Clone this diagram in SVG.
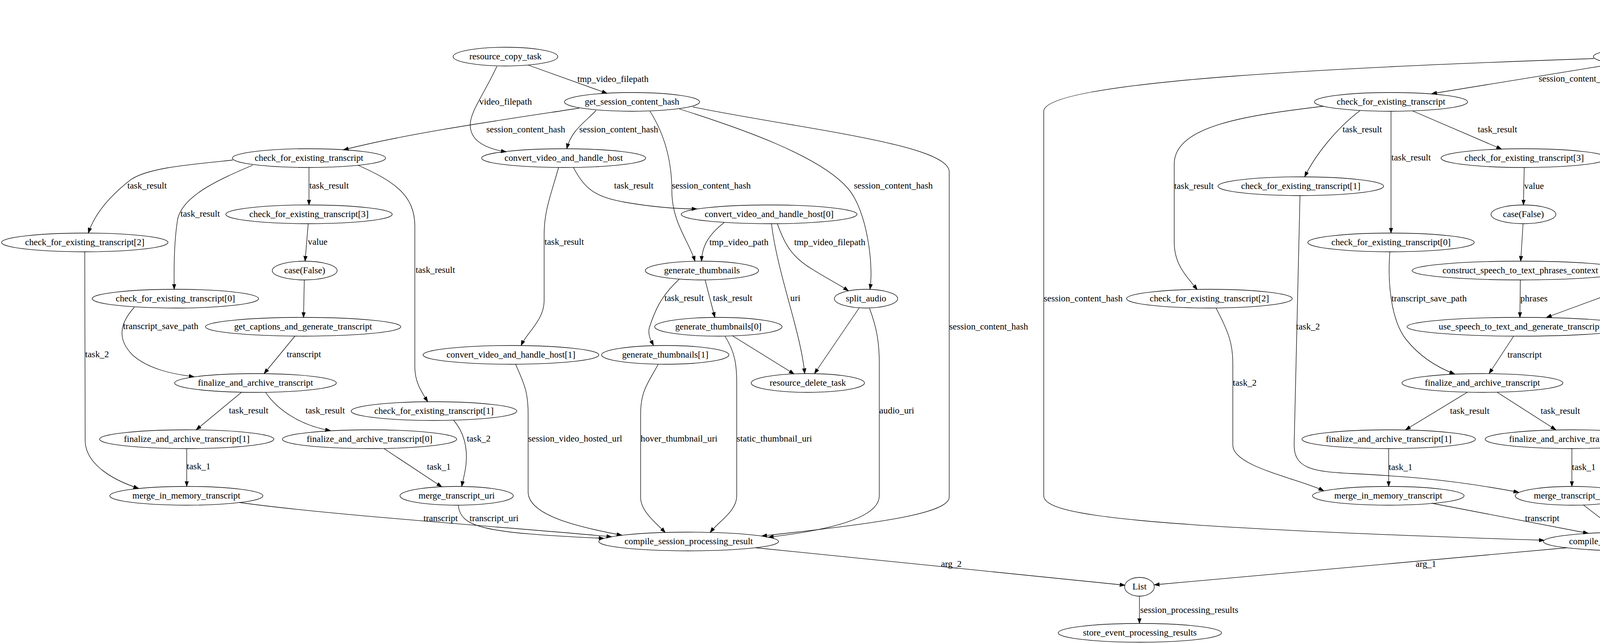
<svg xmlns="http://www.w3.org/2000/svg" width="5189" height="1647" viewBox="0 0 5189 1647">
<style>
.node ellipse{fill:none;stroke:#000;stroke-width:1.3}
.node text{font-family:"Liberation Serif","Times New Roman",serif;font-size:23.3px;text-anchor:middle;fill:#000}
.edge path{fill:none;stroke:#000;stroke-width:1.3;marker-end:url(#ah)}
.edge text{font-family:"Liberation Serif","Times New Roman",serif;font-size:23.3px;text-anchor:start;fill:#000}
</style>
<defs>
<marker id="ah" markerUnits="userSpaceOnUse" markerWidth="14" markerHeight="10" viewBox="0 -5 14 10" refX="13.3" refY="0" orient="auto">
<path d="M0,-4.7 L13.3,0 L0,4.7 z" fill="#000" stroke="#000" stroke-width="1"/>
</marker>
</defs>
<rect x="0" y="0" width="5189" height="1647" fill="#fff"/>

<g id="edges">
<!-- left graph -->
<g class="edge"><path d="M1353,167 L1554,239"/><text x="1478" y="210">tmp_video_filepath</text></g>
<g class="edge"><path d="M1272,170 C1240,240 1200,290 1204,325 C1207,360 1240,380 1296,389"/><text x="1227" y="268">video_filepath</text></g>
<g class="edge"><path d="M1483,277 C1300,305 1050,340 879,384"/><text x="1245" y="339">session_content_hash</text></g>
<g class="edge"><path d="M1526,283 C1495,315 1462,335 1451,381"/><text x="1483" y="339">session_content_hash</text></g>
<g class="edge"><path d="M1664,285 C1705,350 1720,420 1720,490 C1720,570 1765,620 1779,669"/><text x="1720" y="483">session_content_hash</text></g>
<g class="edge"><path d="M1739,279 C1900,330 2100,400 2171,483 C2220,540 2237,680 2227,741"/><text x="2186" y="483">session_content_hash</text></g>
<g class="edge"><path d="M1774,274 C2050,330 2430,370 2430,440 L2430,1274 C2428,1320 2200,1345 1950,1373"/><text x="2430" y="844">session_content_hash</text></g>
<g class="edge"><path d="M2226,790 C2245,840 2251,880 2251,930 L2251,1270 C2251,1320 2150,1355 1967,1376"/><text x="2251" y="1059">audio_uri</text></g>
<g class="edge"><path d="M596,410 C480,422 380,430 335,460 C290,495 245,540 226,597"/><text x="326" y="483">task_result</text></g>
<g class="edge"><path d="M647,423 C560,460 470,500 455,560 C445,620 445,690 446,741"/><text x="462" y="555">task_result</text></g>
<g class="edge"><path d="M791,429 L791,525"/><text x="792" y="483">task_result</text></g>
<g class="edge"><path d="M916,423 C1010,465 1062,500 1062,580 L1062,940 C1062,980 1080,1005 1095,1029"/><text x="1064" y="699">task_result</text></g>
<g class="edge"><path d="M789,573 L781,669"/><text x="788" y="627">value</text></g>
<g class="edge"><path d="M779,717 L777,813"/></g>
<g class="edge"><path d="M217,645 L218,1130 C220,1190 290,1230 355,1251"/><text x="218" y="915">task_2</text></g>
<g class="edge"><path d="M344,787 C305,830 300,870 340,910 C380,945 440,958 497,965"/><text x="315" y="843">transcript_save_path</text></g>
<g class="edge"><path d="M755,861 L676,957"/><text x="734" y="915">transcript</text></g>
<g class="edge"><path d="M618,1005 L502,1101"/><text x="586" y="1059">task_result</text></g>
<g class="edge"><path d="M680,1005 C710,1050 770,1090 846,1103"/><text x="782" y="1059">task_result</text></g>
<g class="edge"><path d="M478,1149 L478,1246"/><text x="478" y="1202">task_1</text></g>
<g class="edge"><path d="M983,1149 L1131,1247"/><text x="1093" y="1203">task_1</text></g>
<g class="edge"><path d="M1161,1076 C1190,1110 1197,1150 1193,1190 C1190,1215 1185,1230 1182,1246"/><text x="1195" y="1131">task_2</text></g>
<g class="edge"><path d="M1468,429 C1500,490 1530,505 1600,518 C1680,532 1740,535 1784,535"/><text x="1572" y="483">task_result</text></g>
<g class="edge"><path d="M1430,429 C1410,500 1393,540 1393,600 L1393,770 C1393,820 1350,850 1334,885"/><text x="1394" y="627">task_result</text></g>
<g class="edge"><path d="M1854,570 C1815,600 1797,630 1796,669"/><text x="1816" y="628">tmp_video_path</text></g>
<g class="edge"><path d="M1990,573 C2010,630 2030,660 2080,690 C2120,715 2150,730 2172,745"/><text x="2033" y="628">tmp_video_filepath</text></g>
<g class="edge"><path d="M1975,573 C1990,700 2050,850 2060,957"/><text x="2023" y="771">uri</text></g>
<g class="edge"><path d="M1805,717 L1830,813"/><text x="1825" y="771">task_result</text></g>
<g class="edge"><path d="M1739,715 C1690,760 1675,800 1662,840 C1658,860 1668,875 1673,885"/><text x="1701" y="771">task_result</text></g>
<g class="edge"><path d="M1875,860 L2033,958"/></g>
<g class="edge"><path d="M2200,788 L2085,957"/></g>
<g class="edge"><path d="M1856,861 C1880,900 1886,930 1886,980 L1886,1270 C1886,1310 1840,1335 1818,1364"/><text x="1886" y="1131">static_thumbnail_uri</text></g>
<g class="edge"><path d="M1685,933 C1660,980 1640,1000 1640,1060 L1640,1274 C1640,1310 1680,1340 1703,1364"/><text x="1640" y="1131">hover_thumbnail_uri</text></g>
<g class="edge"><path d="M1320,933 C1340,980 1352,1000 1352,1060 L1352,1260 C1352,1320 1480,1350 1592,1371"/><text x="1352" y="1131">session_video_hosted_url</text></g>
<g class="edge"><path d="M612,1287 C850,1320 1300,1350 1566,1375"/><text x="1084" y="1335">transcript</text></g>
<g class="edge"><path d="M1173,1294 C1180,1350 1230,1365 1546,1379"/><text x="1202" y="1335">transcript_uri</text></g>
<g class="edge"><path d="M1934,1403 L2880,1499"/><text x="2409" y="1452">arg_2</text></g>
<g class="edge"><path d="M2917,1527 L2917,1597"/><text x="2919" y="1570">session_processing_results</text></g>
<!-- right graph -->
<g class="edge"><path d="M4526,50 L4318,123"/><text x="4440" y="94">tmp_video_filepath</text></g>
<g class="edge"><path d="M4612,53 C4630,85 4628,110 4610,150 C4590,200 4520,270 4492,309"/><text x="4615" y="152">video_filepath</text></g>
<g class="edge"><path d="M4137,163 L3665,240"/><text x="3939" y="209">session_content_hash</text></g>
<g class="edge"><path d="M4080,150 C3500,170 2672,205 2672,285 L2672,1270 C2672,1320 2900,1350 3953,1384"/><text x="2672" y="772">session_content_hash</text></g>
<g class="edge"><path d="M4280,169 L4436,309"/><text x="4328" y="209">session_content_hash</text></g>
<g class="edge"><path d="M4218,168 C4175,210 4163,240 4163,290 L4163,560 C4163,610 4220,640 4238,672"/><text x="4163" y="411">session_content_hash</text></g>
<g class="edge"><path d="M4400,157 C4700,220 4892,240 4892,300 L4892,600 C4892,630 4885,650 4881,669"/><text x="4892" y="411">session_content_hash</text></g>
<g class="edge"><path d="M4484,357 L4610,525"/><text x="4536" y="411">task_result</text></g>
<g class="edge"><path d="M4454,357 C4420,450 4385,520 4385,600 L4393,1050 C4395,1110 4450,1140 4482,1174"/><text x="4393" y="772">task_result</text></g>
<g class="edge"><path d="M3388,272 C3200,295 3006,320 3006,420 L3006,620 C3006,680 3040,710 3065,742"/><text x="3006" y="484">task_result</text></g>
<g class="edge"><path d="M3482,283 C3420,330 3365,400 3340,453"/><text x="3437" y="339">task_result</text></g>
<g class="edge"><path d="M3561,285 L3561,597"/><text x="3562" y="411">task_result</text></g>
<g class="edge"><path d="M3616,284 L3844,382"/><text x="3783" y="339">task_result</text></g>
<g class="edge"><path d="M3902,429 L3900,525"/><text x="3902" y="484">value</text></g>
<g class="edge"><path d="M3899,573 L3893,669"/></g>
<g class="edge"><path d="M3892,717 L3891,813"/><text x="3892" y="772">phrases</text></g>
<g class="edge"><path d="M4228,714 L3959,813"/><text x="4140" y="772">audio_uri</text></g>
<g class="edge"><path d="M3875,861 L3812,957"/><text x="3859" y="916">transcript</text></g>
<g class="edge"><path d="M3558,645 C3552,720 3560,820 3600,870 C3640,920 3690,945 3724,958"/><text x="3562" y="772">transcript_save_path</text></g>
<g class="edge"><path d="M3756,1005 L3598,1101"/><text x="3712" y="1060">task_result</text></g>
<g class="edge"><path d="M3833,1005 L3983,1101"/><text x="3944" y="1060">task_result</text></g>
<g class="edge"><path d="M3555,1149 L3555,1246"/><text x="3555" y="1204">task_1</text></g>
<g class="edge"><path d="M4024,1149 L4024,1246"/><text x="4024" y="1204">task_1</text></g>
<g class="edge"><path d="M3113,789 C3145,850 3156,880 3156,930 L3156,1140 C3156,1195 3320,1225 3389,1257"/><text x="3156" y="988">task_2</text></g>
<g class="edge"><path d="M3328,501 L3313,1140 C3313,1200 3360,1208 3460,1213 C3560,1218 3700,1225 3888,1261"/><text x="3318" y="844">task_2</text></g>
<g class="edge"><path d="M4294,716 L4572,957"/></g>
<g class="edge"><path d="M4278,717 C4282,780 4284,820 4284,900 L4284,1240 C4282,1300 4250,1330 4231,1364"/><text x="4284" y="1060">audio_uri</text></g>
<g class="edge"><path d="M4628,573 L4606,957"/><text x="4617" y="772">uri</text></g>
<g class="edge"><path d="M4500,569 C4440,595 4360,620 4305,671"/><text x="4411" y="627">tmp_video_filepath</text></g>
<g class="edge"><path d="M4646,573 C4680,620 4730,650 4781,674"/><text x="4722" y="627">tmp_video_path</text></g>
<g class="edge"><path d="M4861,717 L4823,813"/><text x="4850" y="772">task_result</text></g>
<g class="edge"><path d="M4927,715 C4975,760 5000,800 5008,870 C5018,940 5024,990 5024,1029"/><text x="5013" y="844">task_result</text></g>
<g class="edge"><path d="M4779,860 L4637,958"/></g>
<g class="edge"><path d="M4804,861 C4792,920 4788,960 4788,1020 L4788,1260 C4788,1330 4500,1345 4351,1371"/><text x="4788" y="1132">static_thumbnail_uri</text></g>
<g class="edge"><path d="M5016,1077 C4985,1150 4960,1200 4945,1260 C4915,1320 4820,1365 4411,1386"/><text x="4975" y="1204">hover_thumbnail_uri</text></g>
<g class="edge"><path d="M4496,1220 C4460,1270 4300,1330 4249,1364"/><text x="4458" y="1277">session_video_hosted_url</text></g>
<g class="edge"><path d="M3665,1289 L4066,1366"/><text x="3904" y="1335">transcript</text></g>
<g class="edge"><path d="M4053,1293 L4144,1363"/><text x="4111" y="1335">transcript_uri</text></g>
<g class="edge"><path d="M4012,1403 L2955,1498"/><text x="3624" y="1452">arg_1</text></g>
</g>

<!-- left graph nodes -->
<g id="L_resource_copy_task" class="node"><ellipse cx="1294" cy="145" rx="134" ry="24"/><text x="1294" y="152">resource_copy_task</text></g>
<g id="L_get_session_content_hash" class="node"><ellipse cx="1618" cy="261" rx="173" ry="24"/><text x="1618" y="268">get_session_content_hash</text></g>
<g id="L_check_for_existing_transcript" class="node"><ellipse cx="791" cy="405" rx="196" ry="24"/><text x="791" y="412">check_for_existing_transcript</text></g>
<g id="L_convert_video_and_handle_host" class="node"><ellipse cx="1443" cy="405" rx="210" ry="24"/><text x="1443" y="412">convert_video_and_handle_host</text></g>
<g id="L_check_for_existing_transcript_3" class="node"><ellipse cx="791" cy="549" rx="213" ry="24"/><text x="791" y="556">check_for_existing_transcript[3]</text></g>
<g id="L_convert_video_and_handle_host_0" class="node"><ellipse cx="1969" cy="549" rx="225" ry="24"/><text x="1969" y="556">convert_video_and_handle_host[0]</text></g>
<g id="L_check_for_existing_transcript_2" class="node"><ellipse cx="217" cy="621" rx="213" ry="24"/><text x="217" y="628">check_for_existing_transcript[2]</text></g>
<g id="L_case_false" class="node"><ellipse cx="780" cy="693" rx="83" ry="24"/><text x="780" y="700">case(False)</text></g>
<g id="L_generate_thumbnails" class="node"><ellipse cx="1797" cy="693" rx="145" ry="24"/><text x="1797" y="700">generate_thumbnails</text></g>
<g id="L_check_for_existing_transcript_0" class="node"><ellipse cx="449" cy="765" rx="213" ry="24"/><text x="449" y="772">check_for_existing_transcript[0]</text></g>
<g id="L_split_audio" class="node"><ellipse cx="2217" cy="765" rx="81" ry="24"/><text x="2217" y="772">split_audio</text></g>
<g id="L_get_captions_and_generate_transcript" class="node"><ellipse cx="776" cy="837" rx="250" ry="24"/><text x="776" y="844">get_captions_and_generate_transcript</text></g>
<g id="L_generate_thumbnails_0" class="node"><ellipse cx="1839" cy="837" rx="163" ry="24"/><text x="1839" y="844">generate_thumbnails[0]</text></g>
<g id="L_convert_video_and_handle_host_1" class="node"><ellipse cx="1308" cy="909" rx="225" ry="24"/><text x="1308" y="916">convert_video_and_handle_host[1]</text></g>
<g id="L_generate_thumbnails_1" class="node"><ellipse cx="1703" cy="909" rx="163" ry="24"/><text x="1703" y="916">generate_thumbnails[1]</text></g>
<g id="L_finalize_and_archive_transcript" class="node"><ellipse cx="654" cy="981" rx="207" ry="24"/><text x="654" y="988">finalize_and_archive_transcript</text></g>
<g id="L_resource_delete_task" class="node"><ellipse cx="2068" cy="981" rx="145" ry="24"/><text x="2068" y="988">resource_delete_task</text></g>
<g id="L_check_for_existing_transcript_1" class="node"><ellipse cx="1111" cy="1053" rx="212" ry="24"/><text x="1111" y="1060">check_for_existing_transcript[1]</text></g>
<g id="L_finalize_and_archive_transcript_1" class="node"><ellipse cx="478" cy="1125" rx="223" ry="24"/><text x="478" y="1132">finalize_and_archive_transcript[1]</text></g>
<g id="L_finalize_and_archive_transcript_0" class="node"><ellipse cx="946" cy="1125" rx="223" ry="24"/><text x="946" y="1132">finalize_and_archive_transcript[0]</text></g>
<g id="L_merge_in_memory_transcript" class="node"><ellipse cx="477" cy="1270" rx="196" ry="24"/><text x="477" y="1277">merge_in_memory_transcript</text></g>
<g id="L_merge_transcript_uri" class="node"><ellipse cx="1169" cy="1270" rx="145" ry="24"/><text x="1169" y="1277">merge_transcript_uri</text></g>
<g id="L_compile_session_processing_result" class="node"><ellipse cx="1763" cy="1387" rx="230" ry="24"/><text x="1763" y="1394">compile_session_processing_result</text></g>
<g id="List" class="node"><ellipse cx="2917" cy="1503" rx="38" ry="24"/><text x="2917" y="1510">List</text></g>
<g id="store_event_processing_results" class="node"><ellipse cx="2918" cy="1621" rx="209" ry="24"/><text x="2918" y="1628">store_event_processing_results</text></g>

<!-- right graph nodes -->
<g id="R_resource_copy_task" class="node"><ellipse cx="4587" cy="29" rx="134" ry="24"/><text x="4587" y="36">resource_copy_task</text></g>
<g id="R_get_session_content_hash" class="node"><ellipse cx="4252" cy="145" rx="173" ry="24"/><text x="4252" y="152">get_session_content_hash</text></g>
<g id="R_check_for_existing_transcript" class="node"><ellipse cx="3561" cy="261" rx="196" ry="24"/><text x="3561" y="268">check_for_existing_transcript</text></g>
<g id="R_convert_video_and_handle_host" class="node"><ellipse cx="4465" cy="333" rx="210" ry="24"/><text x="4465" y="340">convert_video_and_handle_host</text></g>
<g id="R_check_for_existing_transcript_3" class="node"><ellipse cx="3902" cy="405" rx="213" ry="24"/><text x="3902" y="412">check_for_existing_transcript[3]</text></g>
<g id="R_check_for_existing_transcript_1" class="node"><ellipse cx="3330" cy="477" rx="212" ry="24"/><text x="3330" y="484">check_for_existing_transcript[1]</text></g>
<g id="R_case_false" class="node"><ellipse cx="3900" cy="549" rx="83" ry="24"/><text x="3900" y="556">case(False)</text></g>
<g id="R_convert_video_and_handle_host_0" class="node"><ellipse cx="4629" cy="549" rx="225" ry="24"/><text x="4629" y="556">convert_video_and_handle_host[0]</text></g>
<g id="R_check_for_existing_transcript_0" class="node"><ellipse cx="3561" cy="621" rx="213" ry="24"/><text x="3561" y="628">check_for_existing_transcript[0]</text></g>
<g id="R_construct_speech_to_text_phrases_context" class="node"><ellipse cx="3892" cy="693" rx="277" ry="24"/><text x="3892" y="700">construct_speech_to_text_phrases_context</text></g>
<g id="R_split_audio" class="node"><ellipse cx="4275" cy="693" rx="81" ry="24"/><text x="4275" y="700">split_audio</text></g>
<g id="R_generate_thumbnails" class="node"><ellipse cx="4871" cy="693" rx="145" ry="24"/><text x="4871" y="700">generate_thumbnails</text></g>
<g id="R_check_for_existing_transcript_2" class="node"><ellipse cx="3096" cy="765" rx="212" ry="24"/><text x="3096" y="772">check_for_existing_transcript[2]</text></g>
<g id="R_use_speech_to_text_and_generate_transcript" class="node"><ellipse cx="3892" cy="837" rx="290" ry="24"/><text x="3892" y="844">use_speech_to_text_and_generate_transcript</text></g>
<g id="R_generate_thumbnails_0" class="node"><ellipse cx="4811" cy="837" rx="162" ry="24"/><text x="4811" y="844">generate_thumbnails[0]</text></g>
<g id="R_finalize_and_archive_transcript" class="node"><ellipse cx="3795" cy="981" rx="206" ry="24"/><text x="3795" y="988">finalize_and_archive_transcript</text></g>
<g id="R_resource_delete_task" class="node"><ellipse cx="4605" cy="981" rx="145" ry="24"/><text x="4605" y="988">resource_delete_task</text></g>
<g id="R_generate_thumbnails_1" class="node"><ellipse cx="5021" cy="1053" rx="162" ry="24"/><text x="5021" y="1060">generate_thumbnails[1]</text></g>
<g id="R_finalize_and_archive_transcript_1" class="node"><ellipse cx="3555" cy="1125" rx="222" ry="24"/><text x="3555" y="1132">finalize_and_archive_transcript[1]</text></g>
<g id="R_finalize_and_archive_transcript_0" class="node"><ellipse cx="4024" cy="1125" rx="222" ry="24"/><text x="4024" y="1132">finalize_and_archive_transcript[0]</text></g>
<g id="R_convert_video_and_handle_host_1" class="node"><ellipse cx="4529" cy="1197" rx="225" ry="24"/><text x="4529" y="1204">convert_video_and_handle_host[1]</text></g>
<g id="R_merge_in_memory_transcript" class="node"><ellipse cx="3554" cy="1270" rx="194" ry="24"/><text x="3554" y="1277">merge_in_memory_transcript</text></g>
<g id="R_merge_transcript_uri" class="node"><ellipse cx="4024" cy="1270" rx="145" ry="24"/><text x="4024" y="1277">merge_transcript_uri</text></g>
<g id="R_compile_session_processing_result" class="node"><ellipse cx="4181" cy="1387" rx="230" ry="24"/><text x="4181" y="1394">compile_session_processing_result</text></g>
</svg>
